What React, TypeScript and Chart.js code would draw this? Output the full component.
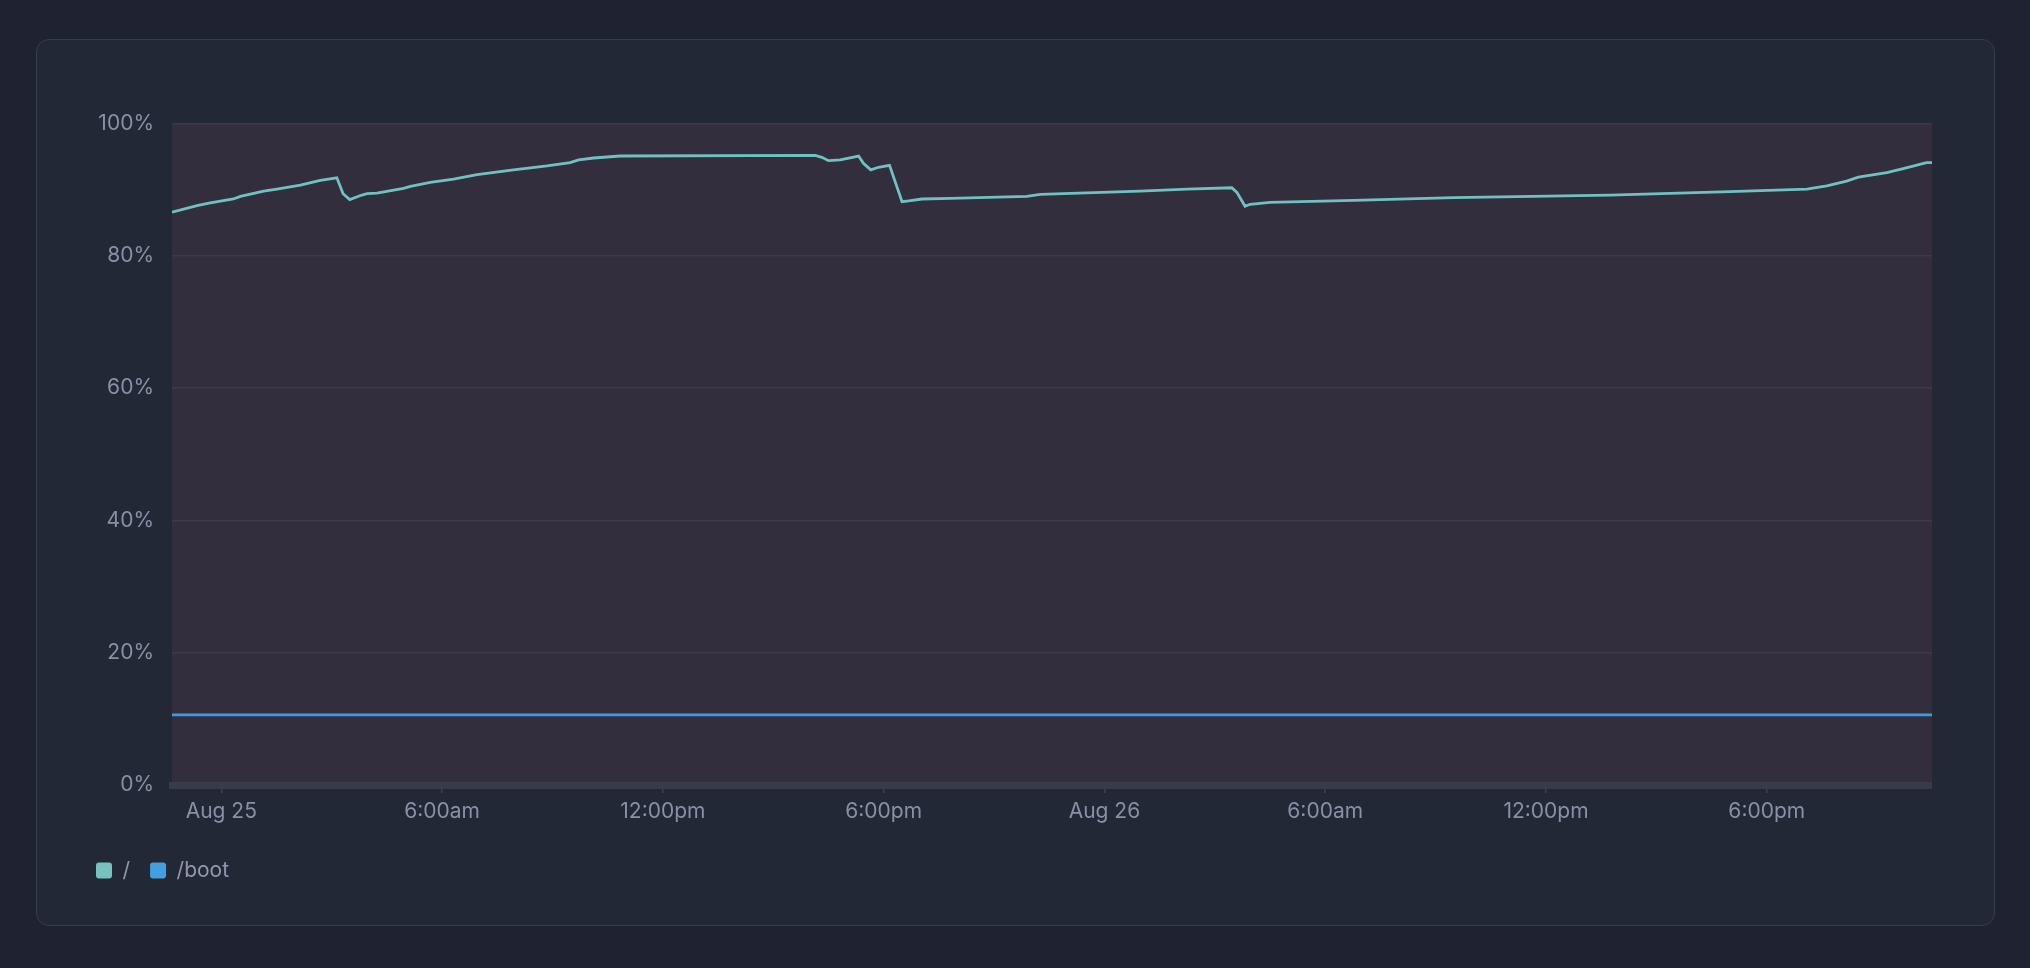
import { useEffect, useRef } from "react";
import { Chart, registerables } from "chart.js";

Chart.register(...registerables);

// hours relative to Aug 25 00:00
const rootHours = [
  -1.34, -0.66, -0.3, 0.33, 0.52, 1.15, 1.51, 2.15, 2.69, 3.14, 3.31, 3.49, 3.82, 3.96, 4.23,
  4.95, 5.14, 5.68, 6.31, 6.95, 7.94, 8.4, 8.85, 9.48, 9.71, 10.12, 10.84, 16.14, 16.32, 16.5,
  16.82, 17.32, 17.45, 17.65, 17.86, 18.16, 18.5, 18.68, 19.04, 19.81, 21.89, 22.26, 24.97,
  26.24, 27.46, 27.6, 27.82, 27.96, 28.5, 30.77, 33.49, 37.74, 41.0, 43.09, 43.63, 44.17,
  44.49, 45.26, 45.71, 46.34, 46.49,
];
const rootUsage = [
  86.6, 87.6, 88.0, 88.6, 89.0, 89.8, 90.1, 90.7, 91.4, 91.8, 89.4, 88.5, 89.2, 89.4, 89.5,
  90.2, 90.5, 91.1, 91.6, 92.3, 93.0, 93.3, 93.6, 94.1, 94.5, 94.8, 95.1, 95.2, 94.9, 94.4,
  94.5, 95.1, 94.0, 93.0, 93.4, 93.7, 88.2, 88.3, 88.6, 88.7, 89.0, 89.3, 89.8,
  90.1, 90.3, 89.6, 87.5, 87.8, 88.1, 88.4, 88.8, 89.2, 89.7, 90.1, 90.6, 91.3,
  91.9, 92.6, 93.2, 94.1, 94.1,
];
const bootHours = [-1.34, 46.49];
const bootUsage = [10.6, 10.6];

const xTickHours = [0, 6, 12, 18, 24, 30, 36, 42];
const xTickLabels = ["Aug 25", "6:00am", "12:00pm", "6:00pm", "Aug 26", "6:00am", "12:00pm", "6:00pm"];
const yTicks = [0, 20, 40, 60, 80, 100];

const plotBg = {
  id: "plotBg",
  beforeDraw(chart: any) {
    const { ctx, chartArea } = chart;
    ctx.save();
    ctx.fillStyle = "#332e3e";
    ctx.fillRect(chartArea.left, chartArea.top, chartArea.right - chartArea.left, chartArea.bottom - chartArea.top);
    ctx.restore();
  },
};

export default function App() {
  const canvasRef = useRef<HTMLCanvasElement>(null);
  const chartRef = useRef<Chart | null>(null);

  useEffect(() => {
    if (!canvasRef.current) return;
    if (chartRef.current) chartRef.current.destroy();

    Chart.defaults.font.family = "Inter";

    chartRef.current = new Chart(canvasRef.current, {
      type: "line",
      data: {
        datasets: [
          {
            label: "/",
            data: rootHours.map((h, i) => ({ x: h, y: rootUsage[i] })),
            borderColor: "#6fc2c1",
            backgroundColor: "#74c3c1",
            borderWidth: 2.8,
            pointRadius: 0,
            tension: 0,
          },
          {
            label: "/boot",
            data: bootHours.map((h, i) => ({ x: h, y: bootUsage[i] })),
            borderColor: "#3e9de0",
            backgroundColor: "#429fe0",
            borderWidth: 2.8,
            pointRadius: 0,
            tension: 0,
          },
        ],
      },
      options: {
        animation: false,
        responsive: true,
        maintainAspectRatio: false,
        layout: { padding: { top: 16.5, left: 0, right: 0, bottom: 0 } },
        plugins: {
          tooltip: { enabled: false },
          legend: {
            position: "bottom",
            align: "start",
            labels: {
              color: "#9397ae",
              font: { size: 21 },
              boxWidth: 16,
              boxHeight: 16,
              padding: 20,
              useBorderRadius: true,
              borderRadius: 3,
              generateLabels: (chart: any) =>
                Chart.defaults.plugins.legend.labels.generateLabels(chart).map((l: any) => ({ ...l, lineWidth: 0 })),
            },
          },
        },
        scales: {
          x: {
            type: "linear",
            min: rootHours[0],
            max: rootHours[rootHours.length - 1],
            afterBuildTicks: (scale: any) => {
              scale.ticks = xTickHours.map((v) => ({ value: v }));
            },
            afterFit: (scale: any) => {
              scale.height = 55;
            },
            ticks: {
              color: "#8c8fa6",
              font: { size: 21 },
              padding: 6,
              maxRotation: 0,
              autoSkip: false,
              callback: (v: any) => {
                const i = xTickHours.indexOf(Number(v));
                return i >= 0 ? xTickLabels[i] : "";
              },
            },
            grid: {
              drawOnChartArea: false,
              drawTicks: true,
              tickLength: 8,
              color: "#3d4152",
              lineWidth: 1.5,
            },
            border: { display: true, color: "#383b49", width: 7 },
          },
          y: {
            min: 0,
            max: 100,
            afterBuildTicks: (scale: any) => {
              scale.ticks = yTicks.map((v) => ({ value: v }));
            },
            afterFit: (scale: any) => {
              scale.width = 96;
            },
            ticks: {
              color: "#8c8fa6",
              font: { size: 21 },
              padding: 18,
              callback: (v: any) => `${v}%`,
            },
            grid: {
              color: "#3e394b",
              lineWidth: 1.5,
              drawTicks: false,
            },
            border: { display: false },
          },
        },
      },
      plugins: [plotBg],
    } as any);

    return () => {
      if (chartRef.current) {
        chartRef.current.destroy();
        chartRef.current = null;
      }
    };
  }, []);

  return (
    <div style={{ position: "fixed", inset: 0, background: "#1f2230", fontFamily: "Inter" }}>
      <div
        style={{
          position: "absolute",
          left: 36,
          top: 39,
          width: 1959,
          height: 887,
          boxSizing: "border-box",
          border: "1.5px solid #393c4b",
          borderRadius: 13,
          background: "#222836",
        }}
      />
      <div style={{ position: "absolute", left: 76, top: 93, width: 1856, height: 798 }}>
        <canvas ref={canvasRef} />
      </div>
    </div>
  );
}
